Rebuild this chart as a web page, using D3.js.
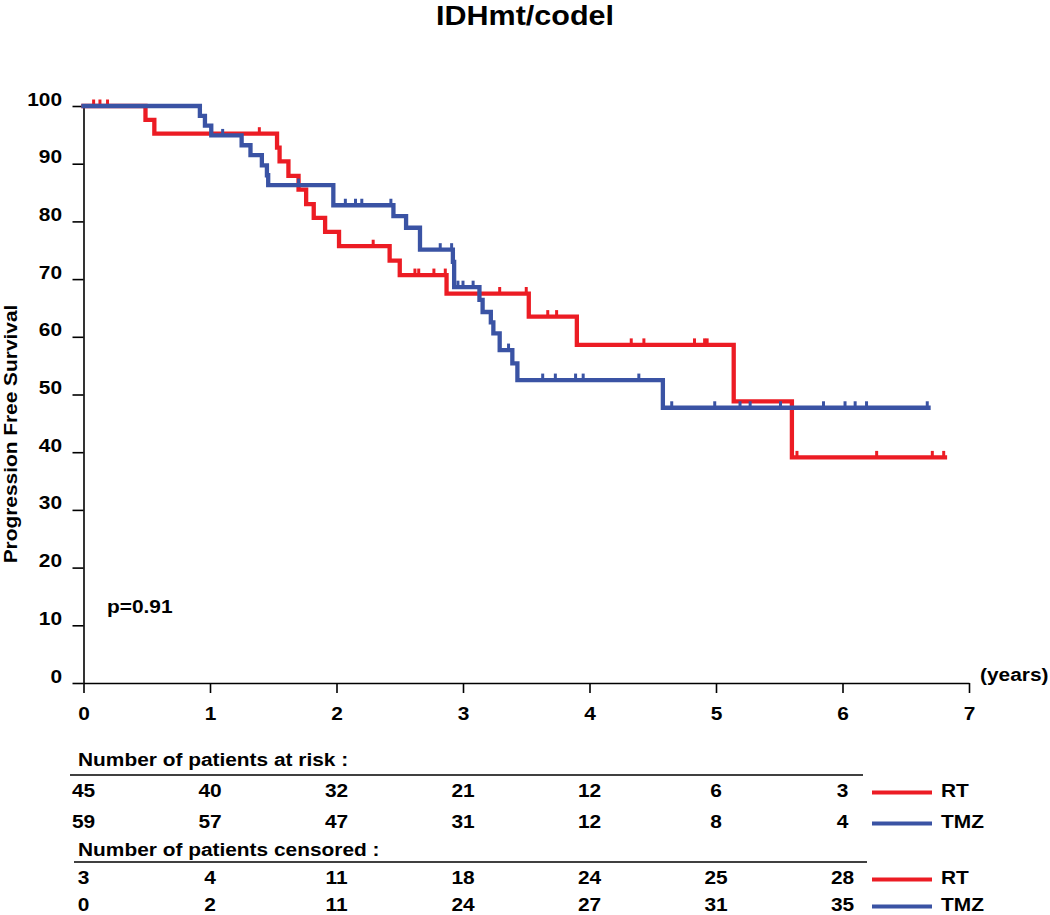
<!DOCTYPE html>
<html>
<head>
<meta charset="utf-8">
<script src="https://cdn.jsdelivr.net/npm/d3@7"></script>
<style>
  body { margin: 0; background: #fff; }
  svg text { font-family: "Liberation Sans", Arial, sans-serif; font-weight: bold; fill: #000; }
</style>
</head>
<body>
<svg id="chart" width="1050" height="915"></svg>
<script>
// ---- data ----
var title = "IDHmt/codel";
var years = [0, 1, 2, 3, 4, 5, 6, 7];
var yTicks = [0, 10, 20, 30, 40, 50, 60, 70, 80, 90, 100];

// KM steps: [time (years), survival %] after each drop
var rtSteps = [[0, 100], [0.49, 97.6], [0.56, 95.2], [1.53, 92.8], [1.55, 90.4], [1.62, 87.9],
    [1.70, 85.5], [1.76, 83.0], [1.82, 80.6], [1.91, 78.2], [2.02, 75.7], [2.42, 73.2],
    [2.50, 70.7], [2.87, 67.5], [3.52, 63.5], [3.90, 58.6], [5.14, 48.8], [5.60, 39.1]];
var rtEnd = 6.81;
var tmzSteps = [[0, 100], [0.92, 98.3], [0.96, 96.6], [1.01, 94.9], [1.25, 93.2], [1.32, 91.5],
    [1.41, 89.7], [1.45, 88.0], [1.46, 86.3], [1.975, 82.8], [2.45, 80.9], [2.55, 78.9],
    [2.66, 75.1], [2.92, 73.0], [2.93, 68.6], [3.13, 66.4], [3.155, 64.3], [3.22, 62.5],
    [3.24, 60.6], [3.29, 57.7], [3.39, 55.4], [3.43, 52.5], [4.58, 47.7]];
var tmzEnd = 6.68;

// censored observations (tick marks)
var rtCensor = [0.08, 0.13, 0.19, 1.39, 2.29, 2.62, 2.65, 2.77, 2.86, 3.29, 3.50, 3.67, 3.74,
    4.33, 4.43, 4.83, 4.91, 4.93, 5.64, 6.27, 6.71, 6.80];
var tmzCensor = [1.10, 1.70, 2.07, 2.15, 2.20, 2.43, 2.82, 2.91, 2.96, 3.00, 3.08, 3.36, 3.63,
    3.73, 3.89, 3.95, 4.39, 4.65, 4.99, 5.19, 5.27, 5.51, 5.85, 6.02, 6.10, 6.19, 6.67];

// table under the chart
var tableYears = [0, 1, 2, 3, 4, 5, 6];
var riskRT = [45, 40, 32, 21, 12, 6, 3];
var riskTMZ = [59, 57, 47, 31, 12, 8, 4];
var censRT = [3, 4, 11, 18, 24, 25, 28];
var censTMZ = [0, 2, 11, 24, 27, 31, 35];

var RED = "#ec1c24", BLUE = "#3a53a4";
var SX = 1.16; // the figure's lettering is a bit wider than plain Arial

var svg = d3.select("#chart");

var x = d3.scaleLinear().domain([0, 7]).range([83.5, 969]);
var y = d3.scaleLinear().domain([0, 100]).range([683, 106]);

// text helper, stretched horizontally
function label(g, px, py, str, size, anchor, sx) {
    return g.append("text")
        .attr("transform", "translate(" + px + "," + py + ") scale(" + (sx || SX) + ",1)")
        .attr("text-anchor", anchor || "start")
        .style("font-size", size + "px")
        .text(str);
}

function survAt(steps, t) {
    var s = steps[0][1];
    steps.forEach(function(d) { if (d[0] <= t) s = d[1]; });
    return s;
}

// title
label(svg, 525, 25, title, 28, "middle", 1.09);

// axes
var xAxis = d3.axisBottom(x).tickValues(years).tickSize(10).tickSizeOuter(0).tickFormat(d3.format("d"));
var gx = svg.append("g").attr("transform", "translate(0," + y(0) + ")").call(xAxis);
gx.select(".domain").attr("stroke-width", 1.6);
gx.selectAll(".tick line").attr("stroke-width", 1.6);
gx.selectAll(".tick text")
    .attr("y", 0).attr("dy", 0)
    .attr("transform", "translate(0,37) scale(" + SX + ",1)")
    .attr("font-family", null).attr("font-size", null)
    .style("font-size", "18px");

var yAxis = d3.axisLeft(y).tickValues(yTicks).tickSize(11).tickSizeOuter(0);
var gy = svg.append("g").attr("transform", "translate(" + x(0) + ",0)").call(yAxis);
gy.select(".domain").attr("stroke-width", 1.6);
gy.selectAll(".tick line").attr("stroke-width", 1.6);
gy.selectAll(".tick text")
    .attr("x", 0).attr("dy", 0)
    .attr("transform", "translate(-21.5,-1) scale(" + SX + ",1)")
    .attr("font-family", null).attr("font-size", null)
    .style("font-size", "18px");
svg.selectAll(".tick text").style("fill", "#000");

label(svg, 980, 681, "(years)", 18);
svg.append("text")
    .attr("transform", "translate(17,434) rotate(-90) scale(" + SX + ",1)")
    .attr("text-anchor", "middle")
    .style("font-size", "18px")
    .text("Progression Free Survival");
label(svg, 107, 613, "p=0.91", 18);

// curves
var line = d3.line()
    .x(function(d) { return x(d[0]); })
    .y(function(d) { return y(d[1]); })
    .curve(d3.curveStepAfter);

function drawCurve(steps, end, censor, color) {
    var pts = steps.concat([[end, steps[steps.length - 1][1]]]);
    var g = svg.append("g");
    g.append("path").datum(pts)
        .attr("d", line)
        .attr("fill", "none")
        .attr("stroke", color)
        .attr("stroke-width", 4.3)
        .attr("stroke-linejoin", "miter")
        .attr("stroke-linecap", "square");
    g.selectAll("line.cens").data(censor).enter().append("line")
        .attr("class", "cens")
        .attr("x1", function(d) { return x(d); })
        .attr("x2", function(d) { return x(d); })
        .attr("y1", function(d) { return y(survAt(steps, d)); })
        .attr("y2", function(d) { return y(survAt(steps, d)) - 6.5; })
        .attr("stroke", color)
        .attr("stroke-width", 3);
}
drawCurve(rtSteps, rtEnd, rtCensor, RED);
drawCurve(tmzSteps, tmzEnd, tmzCensor, BLUE);

// numbers table
var tbl = svg.append("g");
function tableBlock(head, headY, ruleY, ruleX0, ruleX1, rows) {
    label(tbl, 78, headY, head, 18);
    tbl.append("line")
        .attr("x1", ruleX0).attr("x2", ruleX1)
        .attr("y1", ruleY).attr("y2", ruleY)
        .attr("stroke", "#000").attr("stroke-width", 1.6);
    rows.forEach(function(r) {
        r.vals.forEach(function(v, i) {
            label(tbl, x(tableYears[i]), r.y, v, 18, "middle");
        });
        tbl.append("line")
            .attr("x1", 872).attr("x2", 932)
            .attr("y1", r.y - 4.5).attr("y2", r.y - 4.5)
            .attr("stroke", r.color).attr("stroke-width", 4);
        label(tbl, 941, r.y, r.name, 18);
    });
}
tableBlock("Number of patients at risk :", 766, 775, 70, 863, [
    { vals: riskRT, y: 797, color: RED, name: "RT" },
    { vals: riskTMZ, y: 828, color: BLUE, name: "TMZ" }
]);
tableBlock("Number of patients censored :", 856, 862, 74, 867, [
    { vals: censRT, y: 884, color: RED, name: "RT" },
    { vals: censTMZ, y: 911, color: BLUE, name: "TMZ" }
]);
</script>
</body>
</html>
